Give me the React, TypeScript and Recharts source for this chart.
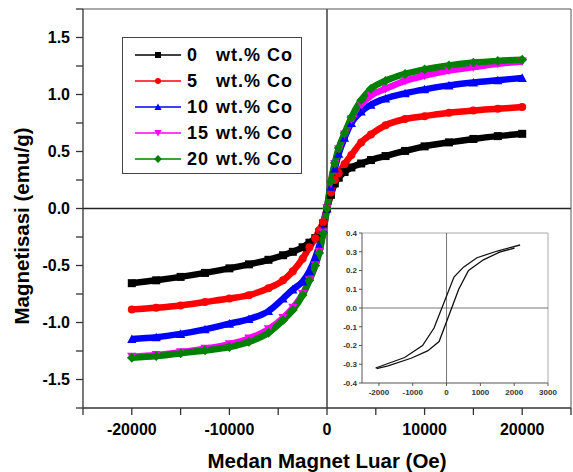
import React from 'react';
import { LineChart, Line, XAxis, YAxis, ReferenceLine } from 'recharts';

// applied field (Oe), shared by all five samples
const fields = [
  -20000, -17500, -15000, -12500, -10000, -8000, -6000, -4500, -3500, -2500, -1800, -1200, -800, -400, 0,
  400, 800, 1200, 1800, 2500, 3500, 4500, 6000, 8000, 10000, 12500, 15000, 17500, 20000,
];

// magnetisation (emu/g) per Co content
const co0 = [
  -0.655, -0.63, -0.6, -0.565, -0.525, -0.49, -0.45, -0.41, -0.38, -0.34, -0.3, -0.26, -0.21, -0.13, 0,
  0.12, 0.22, 0.27, 0.32, 0.36, 0.395, 0.425, 0.46, 0.505, 0.545, 0.58, 0.61, 0.635, 0.655,
];
const co5 = [
  -0.885, -0.87, -0.85, -0.82, -0.79, -0.76, -0.7, -0.63, -0.55, -0.44, -0.34, -0.26, -0.19, -0.12, 0,
  0.14, 0.25, 0.31, 0.39, 0.47, 0.58, 0.65, 0.73, 0.785, 0.81, 0.84, 0.86, 0.875, 0.89,
];
const co10 = [
  -1.145, -1.13, -1.1, -1.06, -1.01, -0.97, -0.9, -0.79, -0.71, -0.64, -0.55, -0.43, -0.33, -0.18, 0,
  0.19, 0.35, 0.48, 0.62, 0.75, 0.85, 0.91, 0.965, 1.01, 1.045, 1.08, 1.105, 1.125, 1.145,
];
const co15 = [
  -1.3, -1.285, -1.26, -1.23, -1.19, -1.14, -1.06, -0.96, -0.87, -0.75, -0.63, -0.5, -0.38, -0.21, 0,
  0.22, 0.39, 0.52, 0.65, 0.78, 0.91, 0.99, 1.05, 1.12, 1.165, 1.21, 1.24, 1.27, 1.29,
];
const co20 = [
  -1.31, -1.295, -1.27, -1.245, -1.215, -1.17, -1.09, -0.98, -0.89, -0.76, -0.63, -0.5, -0.39, -0.22, 0,
  0.24, 0.4, 0.53, 0.66, 0.8, 0.95, 1.05, 1.12, 1.18, 1.22, 1.255, 1.28, 1.295, 1.305,
];

const seriesKeys = ['co0', 'co5', 'co10', 'co15', 'co20'];
const seriesNums = ['0', '5', '10', '15', '20'];
const seriesColors = ['#000000', '#ff0000', '#0000ff', '#ff00ff', '#008000'];
const seriesShapes = ['square', 'circle', 'up', 'down', 'diamond'];

const xTicks = [-25000, -20000, -15000, -10000, -5000, 0, 5000, 10000, 15000, 20000, 25000];
const yTicks = [-1.75, -1.5, -1.25, -1, -0.75, -0.5, -0.25, 0, 0.25, 0.5, 0.75, 1, 1.25, 1.5, 1.75];

// inset: hysteresis loop of the 0 wt.% sample, [field, magnetisation]
const insetDown = [
  [2175, 0.336], [1500, 0.304], [900, 0.268], [500, 0.218], [220, 0.165], [-370, -0.107],
  [-710, -0.2], [-1240, -0.264], [-2100, -0.32],
];
const insetUp = [
  [-2070, -0.323], [-1730, -0.309], [-1050, -0.268], [-560, -0.229], [-220, -0.179], [360, 0.1],
  [650, 0.2], [1090, 0.257], [1570, 0.298], [2010, 0.32],
];
const insetXTicks = [-2000, -1000, 0, 1000, 2000, 3000];
const insetYTicks = [-0.4, -0.3, -0.2, -0.1, 0, 0.1, 0.2, 0.3, 0.4];

const data = fields.map((h, i) => ({
  h,
  co0: co0[i],
  co5: co5[i],
  co10: co10[i],
  co15: co15[i],
  co20: co20[i],
}));

const FONT = '"Liberation Sans", Arial, sans-serif';

const Marker = ({ cx, cy, shape, color, r = 4 }: any) => {
  if (cx == null || cy == null) return null;
  if (shape === 'square') return <rect x={cx - r} y={cy - r} width={2 * r} height={2 * r} fill={color} />;
  if (shape === 'circle') return <circle cx={cx} cy={cy} r={r} fill={color} />;
  if (shape === 'up')
    return <polygon points={`${cx},${cy - r - 0.6} ${cx - r - 0.6},${cy + r} ${cx + r + 0.6},${cy + r}`} fill={color} />;
  if (shape === 'down')
    return <polygon points={`${cx},${cy + r + 0.6} ${cx - r - 0.6},${cy - r} ${cx + r + 0.6},${cy - r}`} fill={color} />;
  const d = r + 0.9;
  return <polygon points={`${cx},${cy - d} ${cx + d},${cy} ${cx},${cy + d} ${cx - d},${cy}`} fill={color} />;
};

const tickFont = { fill: '#000', fontSize: 16, fontWeight: 'bold', fontFamily: FONT };
const insetFont = { fill: '#333', fontSize: 8, fontWeight: 'bold', fontFamily: FONT };

const Legend = () => (
  <div
    style={{
      position: 'absolute',
      left: 122,
      top: 37,
      width: 178,
      height: 131,
      border: '1.5px solid #444',
      background: '#fff',
      paddingTop: 4,
      boxSizing: 'content-box',
    }}
  >
    {seriesKeys.map((k, i) => (
      <div key={k} style={{ height: 26, display: 'flex', alignItems: 'center' }}>
        <svg width={46} height={12} style={{ marginLeft: 12, marginRight: 6 }}>
          <line x1={0} y1={6} x2={46} y2={6} stroke={seriesColors[i]} strokeWidth={1.6} />
          <Marker cx={23} cy={6} shape={seriesShapes[i]} color={seriesColors[i]} r={3} />
        </svg>
        <span style={{ font: `bold 18px ${FONT}`, letterSpacing: 1, color: '#000', whiteSpace: 'pre' }}>
          <span style={{ display: 'inline-block', width: 29 }}>{seriesNums[i]}</span>wt.% Co
        </span>
      </div>
    ))}
  </div>
);

const Inset = () => (
  <div style={{ position: 'absolute', left: 330, top: 225, width: 240, height: 180, background: '#fff' }}>
    <LineChart width={240} height={180} margin={{ top: 8, right: 22, bottom: 8, left: 7 }}>
      <XAxis
        dataKey="h"
        type="number"
        domain={[-2500, 3000]}
        ticks={insetXTicks}
        interval={0}
        height={14}
        tickSize={3}
        tickMargin={3}
        stroke="#555"
        tick={insetFont}
        allowDataOverflow
      />
      <YAxis
        type="number"
        domain={[-0.4, 0.4]}
        ticks={insetYTicks}
        interval={0}
        width={25}
        tickSize={3}
        tickMargin={2}
        stroke="#555"
        tick={insetFont}
        tickFormatter={(v: number) => v.toFixed(1)}
        allowDataOverflow
      />
      <ReferenceLine y={0.4} stroke="#aaa" strokeWidth={1} />
      <ReferenceLine x={3000} stroke="#aaa" strokeWidth={1} />
      <ReferenceLine x={0} stroke="#555" strokeWidth={0.8} />
      <ReferenceLine y={0} stroke="#555" strokeWidth={0.8} />
      <Line
        data={insetDown.map(([h, m]) => ({ h, m }))}
        dataKey="m"
        type="linear"
        stroke="#111"
        strokeWidth={1.3}
        dot={false}
        isAnimationActive={false}
      />
      <Line
        data={insetUp.map(([h, m]) => ({ h, m }))}
        dataKey="m"
        type="linear"
        stroke="#111"
        strokeWidth={1.3}
        dot={false}
        isAnimationActive={false}
      />
    </LineChart>
  </div>
);

export default function App() {
  return (
    <div style={{ position: 'relative', width: 573, height: 472, background: '#fff', fontFamily: FONT }}>
      <style>{'body{margin:0}'}</style>
      <LineChart width={573} height={472} data={data} margin={{ top: 9, right: 2, bottom: 14, left: 23 }}>
        <XAxis
          dataKey="h"
          type="number"
          domain={[-25000, 25000]}
          ticks={xTicks}
          interval={0}
          height={50}
          tickSize={7}
          tickMargin={9}
          stroke="#333"
          strokeWidth={1.3}
          tick={tickFont}
          tickFormatter={(v: number) => (v % 10000 === 0 ? String(v) : '')}
          allowDataOverflow
        />
        <XAxis
          xAxisId="top"
          orientation="top"
          type="number"
          domain={[-25000, 25000]}
          ticks={xTicks}
          interval={0}
          height={1}
          mirror
          tick={false}
          tickSize={5}
          stroke="#555"
          allowDataOverflow
        />
        <YAxis
          type="number"
          domain={[-1.75, 1.75]}
          ticks={yTicks}
          interval={0}
          width={60}
          tickSize={7}
          tickMargin={6}
          stroke="#333"
          strokeWidth={1.3}
          tick={tickFont}
          tickFormatter={(v: number) => (Math.abs(v * 2 - Math.round(v * 2)) < 1e-6 ? v.toFixed(1) : '')}
          allowDataOverflow
        />
        <YAxis
          yAxisId="right"
          orientation="right"
          type="number"
          domain={[-1.75, 1.75]}
          ticks={yTicks}
          interval={0}
          width={1}
          mirror
          tick={false}
          tickSize={5}
          stroke="#555"
          allowDataOverflow
        />
        <ReferenceLine x={0} stroke="#222" strokeWidth={1.3} />
        <ReferenceLine y={0} stroke="#222" strokeWidth={1.3} />
        {seriesKeys.map((k, i) => (
          <Line
            key={k}
            dataKey={k}
            type="monotone"
            stroke={seriesColors[i]}
            strokeWidth={6.5}
            isAnimationActive={false}
            dot={(p: any) => (
              <Marker key={`${k}-${p.index}`} cx={p.cx} cy={p.cy} shape={seriesShapes[i]} color={seriesColors[i]} />
            )}
          />
        ))}
      </LineChart>
      <svg width={573} height={472} style={{ position: 'absolute', left: 0, top: 0, pointerEvents: 'none' }}>
        <text x={327} y={468} textAnchor="middle" fontFamily={FONT} fontWeight="bold" fontSize={20.5} fill="#000">
          Medan Magnet Luar (Oe)
        </text>
        <text
          x={0}
          y={0}
          transform="translate(29,226) rotate(-90)"
          textAnchor="middle"
          fontFamily={FONT}
          fontWeight="bold"
          fontSize={20.5}
          fill="#000"
        >
          Magnetisasi (emu/g)
        </text>
      </svg>
      <Legend />
      <Inset />
    </div>
  );
}
